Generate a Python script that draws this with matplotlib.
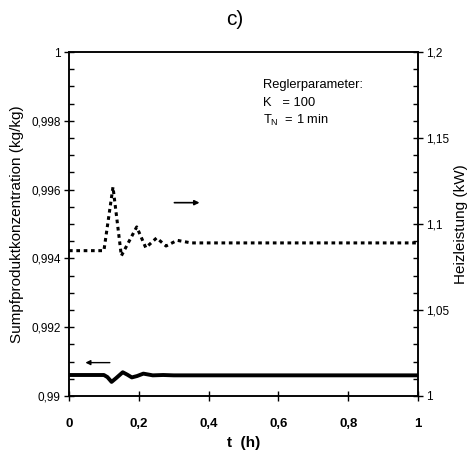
import matplotlib
matplotlib.use("Agg")
import matplotlib.pyplot as plt
from matplotlib.ticker import MultipleLocator, FuncFormatter

plt.rcParams['font.family'] = ['Liberation Sans', 'DejaVu Sans']

# ----------------------------
# DATA
# ----------------------------
# Sumpfproduktkonzentration (left axis, solid)
t_conc = [0, 0.10, 0.11, 0.122, 0.135, 0.154, 0.167, 0.18, 0.195, 0.213, 0.24, 0.27, 0.30, 1.0]
conc = [0.99061, 0.99061, 0.99055, 0.99041, 0.99052, 0.99069, 0.99062, 0.99054,
        0.99058, 0.99065, 0.99060, 0.99061, 0.99060, 0.99060]

# Heizleistung (right axis, dotted)
t_heat = [0, 0.10, 0.126, 0.15, 0.194, 0.22, 0.251, 0.278, 0.31, 0.35, 1.0]
heat = [1.0845, 1.0845, 1.1215, 1.0815, 1.0983, 1.0862, 1.0919, 1.0872, 1.0905, 1.089, 1.089]

title = "c)"
param_lines = ["Reglerparameter:", "K   = 100", "T$_\\mathregular{N}$  = 1 min"]


def comma(v, pos):
    s = ("%.3f" % v).rstrip("0").rstrip(".")
    return s.replace(".", ",")


def comma2(v, pos):
    s = ("%.2f" % v).rstrip("0").rstrip(".")
    return s.replace(".", ",")


fig = plt.figure(figsize=(4.73, 4.55), dpi=100)
ax = fig.add_axes([0.1459, 0.1297, 0.7378, 0.756])
ax2 = ax.twinx()

ax.plot(t_conc, conc, color="black", lw=2.8, solid_capstyle="butt")
ax2.plot(t_heat, heat, color="black", lw=2.2, linestyle=(0, (1.2, 1.2)))

ax.set_xlim(0, 1)
ax.set_ylim(0.99, 1.0)
ax2.set_ylim(1.0, 1.2)

ax.xaxis.set_major_locator(MultipleLocator(0.2))
ax.yaxis.set_major_locator(MultipleLocator(0.002))
ax.yaxis.set_minor_locator(MultipleLocator(0.0005))
ax2.yaxis.set_major_locator(MultipleLocator(0.05))
ax2.yaxis.set_minor_locator(MultipleLocator(0.01))

ax.xaxis.set_major_formatter(FuncFormatter(comma))
ax.yaxis.set_major_formatter(FuncFormatter(comma))
ax2.yaxis.set_major_formatter(FuncFormatter(comma2))

for a in (ax, ax2):
    for sp in a.spines.values():
        sp.set_linewidth(1.1)

ax.tick_params(axis="y", which="major", direction="inout", length=7, width=1, labelsize=8.5, pad=2.5)
ax.tick_params(axis="y", which="minor", direction="in", length=3.5, width=1)
ax.tick_params(axis="x", which="major", direction="inout", length=7, width=1, labelsize=9.5, pad=12)
ax2.tick_params(axis="y", which="major", direction="inout", length=7, width=1, labelsize=8.5, pad=2.5)
ax2.tick_params(axis="y", which="minor", direction="in", length=3.5, width=1)
for lab in ax.get_xticklabels():
    lab.set_fontweight("bold")

ax.set_xlabel("t  (h)", fontsize=11, fontweight="bold", labelpad=5)

# axis titles placed like in the original figure
mid = 0.1297 + 0.756 / 2
fig.text(17 / 473, mid, "Sumpfproduktkonzentration (kg/kg)", fontsize=11,
         rotation=90, ha="center", va="center")
fig.text(461 / 473, mid, "Heizleistung (kW)", fontsize=11,
         rotation=90, ha="center", va="center")

fig.text(0.497, 0.958, title, fontsize=15, ha="center", va="center")

# parameter box
for i, line in enumerate(param_lines):
    ax.text(0.555, 0.905 - i * 0.052, line, transform=ax.transAxes, fontsize=9.3,
            va="center", ha="left")

# arrows showing which axis each curve belongs to
ax.annotate("", xy=(0.382, 0.99562), xytext=(0.294, 0.99562),
            arrowprops=dict(arrowstyle="-|>", color="black", lw=1.2, mutation_scale=7))
ax.annotate("", xy=(0.039, 0.99097), xytext=(0.125, 0.99097),
            arrowprops=dict(arrowstyle="-|>", color="black", lw=1.0, mutation_scale=7))

fig.savefig("out.png", dpi=100)
